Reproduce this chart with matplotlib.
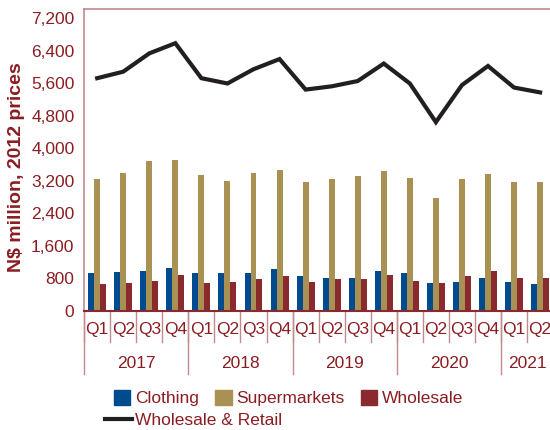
import matplotlib
matplotlib.use("Agg")
import matplotlib.pyplot as plt
import numpy as np
from matplotlib.patches import Patch
from matplotlib.lines import Line2D
from matplotlib.ticker import FuncFormatter

plt.rcParams['font.family'] = ['Liberation Sans', 'DejaVu Sans']

quarters = ['Q1', 'Q2', 'Q3', 'Q4'] * 4 + ['Q1', 'Q2']
years = ['2017', '2018', '2019', '2020', '2021']
year_len = [4, 4, 4, 4, 2]

clothing = [920, 950, 985, 1060, 920, 920, 920, 1025, 855, 820, 820, 985,
            920, 680, 715, 820, 715, 650]
supermarkets = [3250, 3380, 3675, 3705, 3345, 3200, 3380, 3475, 3175, 3240,
                3305, 3435, 3270, 2765, 3240, 3370, 3175, 3175]
wholesale = [650, 680, 745, 875, 680, 715, 780, 855, 715, 780, 780, 885,
             745, 680, 855, 985, 820, 820]
wholesale_retail = [5720, 5880, 6330, 6580, 5720, 5590, 5940, 6190, 5440, 5520,
                    5650, 6080, 5590, 4640, 5550, 6020, 5490, 5370]

c_blue = '#004a8f'
c_gold = '#a89152'
c_red = '#8b2a2e'
c_text = '#8b1d22'
c_spine = '#c08a8e'
fs = 12.5

fig = plt.figure(figsize=(5.5, 4.3), dpi=100)
ax = fig.add_axes([0.153, 0.277, 0.847, 0.702])

x = np.arange(len(quarters))
w = 0.23
ax.bar(x - w, clothing, w, color=c_blue)
ax.bar(x, supermarkets, w, color=c_gold)
ax.bar(x + w, wholesale, w, color=c_red)
ax.plot(x, wholesale_retail, color='#231f20', lw=3, solid_joinstyle='miter')

ax.set_xlim(-0.5, 17.38)
ax.set_ylim(0, 7420)
ax.set_yticks(np.arange(0, 7201, 800))
ax.yaxis.set_major_formatter(FuncFormatter(lambda v, p: f'{int(v):,}'))
ax.tick_params(axis='y', length=0, pad=7, labelsize=fs, labelcolor=c_text)
ax.set_xticks([])

for s in ['left', 'top']:
    ax.spines[s].set_color(c_spine)
    ax.spines[s].set_linewidth(1.2)
ax.spines['right'].set_visible(False)
ax.spines['bottom'].set_color(c_red)
ax.spines['bottom'].set_linewidth(1.5)

ax.set_ylabel('N$ million, 2012 prices', fontsize=14, fontweight='bold',
              color=c_text)
ax.yaxis.set_label_coords(-0.128, 0.477)

trans = ax.get_xaxis_transform()
# quarter labels and separators
for i, q in enumerate(quarters):
    ax.text(i, -0.063, q, transform=trans, ha='center', va='center',
            fontsize=fs, color=c_text)
for b in np.arange(-0.5, len(quarters), 1.0):
    ax.plot([b, b], [0, -0.103], transform=trans, color=c_spine, lw=1,
            clip_on=False)
# year labels and separators
start = 0
for yr, n in zip(years, year_len):
    ax.plot([start - 0.5, start - 0.5], [0, -0.21], transform=trans,
            color=c_spine, lw=1, clip_on=False)
    ax.text(start + (n - 1) / 2, -0.175, yr, transform=trans, ha='center',
            va='center', fontsize=fs, color=c_text)
    start += n

bar_handles = [Patch(color=c_blue, label='Clothing'),
               Patch(color=c_gold, label='Supermarkets'),
               Patch(color=c_red, label='Wholesale')]
leg1 = fig.legend(handles=bar_handles, ncol=3, loc='upper left',
                  bbox_to_anchor=(0.207, 0.093), frameon=False, fontsize=fs,
                  handlelength=0.95, handleheight=0.95, handletextpad=0.25,
                  columnspacing=0.95, borderpad=0, borderaxespad=0)
line_handle = [Line2D([], [], color='#231f20', lw=3, label='Wholesale & Retail')]
leg2 = fig.legend(handles=line_handle, loc='upper left',
                  bbox_to_anchor=(0.191, 0.04), frameon=False, fontsize=fs,
                  handlelength=1.55, handletextpad=0.2, borderpad=0,
                  borderaxespad=0)
for leg in (leg1, leg2):
    for t in leg.get_texts():
        t.set_color(c_text)

fig.savefig('out.png', dpi=100)
